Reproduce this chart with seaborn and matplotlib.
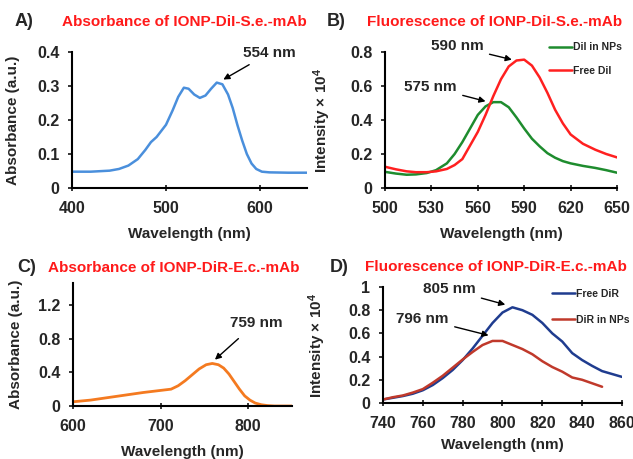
import numpy as np
import pandas as pd
import matplotlib
matplotlib.use('Agg')
import matplotlib.pyplot as plt
from matplotlib.ticker import FuncFormatter
import seaborn as sns

# Panel A: absorbance of IONP-DiI-S.e.-mAb
wl_a = [400, 420, 440, 450, 460, 470, 478, 484, 490, 500, 507, 513, 519, 524, 530,
        536, 542, 548, 554, 560, 566, 571, 576, 581, 586, 591, 596, 602, 610, 630, 650]
abs_a = [0.048, 0.048, 0.051, 0.056, 0.066, 0.085, 0.112, 0.135, 0.150, 0.186, 0.228,
         0.268, 0.295, 0.292, 0.275, 0.265, 0.272, 0.292, 0.310, 0.305, 0.275, 0.235,
         0.185, 0.140, 0.100, 0.072, 0.056, 0.048, 0.046, 0.045, 0.045]

# Panel B: fluorescence of IONP-DiI-S.e.-mAb
wl_b = [500, 507, 514, 520, 527, 533, 540, 545, 550, 555, 560, 565, 570, 575, 580,
        585, 590, 595, 600, 605, 610, 615, 620, 628, 636, 643, 650]
dii_nps = [0.095, 0.085, 0.078, 0.080, 0.088, 0.105, 0.145, 0.20, 0.27, 0.35, 0.43,
           0.48, 0.505, 0.505, 0.475, 0.415, 0.35, 0.29, 0.245, 0.205, 0.178, 0.158,
           0.145, 0.13, 0.118, 0.105, 0.09]
dii_free = [0.125, 0.11, 0.098, 0.093, 0.093, 0.098, 0.112, 0.135, 0.17, 0.25, 0.33,
            0.43, 0.54, 0.64, 0.715, 0.75, 0.755, 0.72, 0.65, 0.56, 0.46, 0.38,
            0.315, 0.26, 0.225, 0.2, 0.18]

# Panel C: absorbance of IONP-DiR-E.c.-mAb
wl_c = [600, 620, 640, 660, 680, 700, 712, 720, 728, 736, 744, 752, 759, 766, 772,
        778, 784, 790, 796, 802, 808, 815, 822, 830, 850]
abs_c = [0.05, 0.07, 0.10, 0.13, 0.16, 0.185, 0.2, 0.24, 0.30, 0.37, 0.44, 0.49,
         0.505, 0.49, 0.45, 0.38, 0.29, 0.2, 0.12, 0.07, 0.035, 0.015, 0.005, 0.0, 0.0]

# Panel D: fluorescence of IONP-DiR-E.c.-mAb
wl_d_free = [740, 745, 750, 755, 760, 765, 770, 775, 780, 785, 790, 795, 800, 805,
             810, 815, 820, 825, 830, 835, 840, 845, 850, 855, 860]
dir_free = [0.03, 0.045, 0.06, 0.08, 0.11, 0.155, 0.215, 0.285, 0.37, 0.47, 0.58,
            0.69, 0.78, 0.825, 0.8, 0.76, 0.69, 0.6, 0.53, 0.43, 0.37, 0.32, 0.275,
            0.25, 0.225]
wl_d_nps = [740, 745, 750, 755, 760, 765, 770, 775, 780, 785, 790, 795, 800, 805,
            810, 815, 820, 825, 830, 835, 840, 845, 850]
dir_nps = [0.03, 0.05, 0.065, 0.09, 0.12, 0.175, 0.235, 0.305, 0.375, 0.44, 0.5,
           0.535, 0.535, 0.50, 0.465, 0.42, 0.36, 0.31, 0.27, 0.22, 0.2, 0.17, 0.14]

sns.set_style('ticks')
plt.rcParams['font.family'] = ['Liberation Sans', 'DejaVu Sans']
plt.rcParams['font.weight'] = 'bold'
plt.rcParams['mathtext.default'] = 'regular'

fig = plt.figure(figsize=(6.33, 4.59), dpi=100)
W, H = 633, 459


def add_axes(x0, x1, ytop, ybot):
    return fig.add_axes([x0 / W, 1 - ybot / H, (x1 - x0) / W, (ybot - ytop) / H])


ax_a = add_axes(72, 307, 52, 188)
ax_b = add_axes(385, 617, 52, 188)
ax_c = add_axes(73, 292, 283, 406)
ax_d = add_axes(383, 622, 287, 403)

fmt = FuncFormatter(lambda v, p: '%g' % round(v, 3))
arrow = dict(arrowstyle='-|>', color='black', lw=1, shrinkA=2, shrinkB=0,
             mutation_scale=9)

# A
sns.lineplot(x=wl_a, y=abs_a, ax=ax_a, color='#4a8fdc', lw=1.8)
ax_a.set_xlim(400, 650)
ax_a.set_ylim(0, 0.4)
ax_a.set_xticks([400, 500, 600])
ax_a.set_yticks([0, 0.1, 0.2, 0.3, 0.4])
ax_a.set_ylabel('Absorbance (a.u.)')
ax_a.annotate('554 nm', xy=(561, 0.319), xytext=(582, 0.397), fontsize=11,
              fontweight='bold', va='center', ha='left', arrowprops=arrow)

# B
dfb = pd.DataFrame({'Wavelength': wl_b * 2,
                    'Intensity': dii_nps + dii_free,
                    'Sample': ['DiI in NPs'] * len(wl_b) + ['Free DiI'] * len(wl_b)})
sns.lineplot(data=dfb, x='Wavelength', y='Intensity', hue='Sample', ax=ax_b,
             palette=['#1e8c2e', '#ff2020'], lw=1.8)
ax_b.set_xlim(500, 650)
ax_b.set_ylim(0, 0.8)
ax_b.set_xticks([500, 530, 560, 590, 620, 650])
ax_b.set_yticks([0, 0.2, 0.4, 0.6, 0.8])
ax_b.set_ylabel('Intensity × 10$^{4}$')
for txt, head, tail in [('590 nm', (582, 0.755), (563.7, 0.833)),
                        ('575 nm', (565, 0.51), (546.4, 0.594))]:
    ax_b.annotate(txt, xy=head, xytext=tail, fontsize=11, fontweight='bold',
                  va='center', ha='right', arrowprops=arrow)
ax_b.legend(loc='upper left', bbox_to_anchor=(0.707, 1.07), frameon=False,
            fontsize=7.5, handlelength=2.2, handletextpad=0.1, labelspacing=1.25,
            borderpad=0, borderaxespad=0)

# C
sns.lineplot(x=wl_c, y=abs_c, ax=ax_c, color='#f47a20', lw=2)
ax_c.set_xlim(600, 850)
ax_c.set_ylim(0, 1.46)
ax_c.set_xticks([600, 700, 800])
ax_c.set_yticks([0, 0.4, 0.8, 1.2])
ax_c.set_ylabel('Absorbance (a.u.)')
ax_c.annotate('759 nm', xy=(762, 0.55), xytext=(779, 0.988), fontsize=11,
              fontweight='bold', va='center', ha='left',
              arrowprops=dict(arrow, shrinkA=6))

# D
dfd = pd.DataFrame({'Wavelength': wl_d_free + wl_d_nps,
                    'Intensity': dir_free + dir_nps,
                    'Sample': ['Free DiR'] * len(wl_d_free) + ['DiR in NPs'] * len(wl_d_nps)})
sns.lineplot(data=dfd, x='Wavelength', y='Intensity', hue='Sample', ax=ax_d,
             palette=['#1f3c8f', '#c0392b'], lw=1.8)
ax_d.set_xlim(740, 860)
ax_d.set_ylim(0, 1)
ax_d.set_xticks([740, 760, 780, 800, 820, 840, 860])
ax_d.set_yticks([0, 0.2, 0.4, 0.6, 0.8, 1])
ax_d.set_ylabel('Intensity × 10$^{4}$')
for txt, head, tail in [('805 nm', (801.4, 0.848), (786.4, 0.98)),
                        ('796 nm', (793, 0.583), (773, 0.727))]:
    ax_d.annotate(txt, xy=head, xytext=tail, fontsize=11, fontweight='bold',
                  va='center', ha='right', arrowprops=arrow)
ax_d.legend(loc='upper left', bbox_to_anchor=(0.707, 0.985), frameon=False,
            fontsize=7.5, handlelength=2.2, handletextpad=0.1, labelspacing=1.55,
            borderpad=0, borderaxespad=0)

ylab_x = {ax_a: -0.222, ax_b: -0.224, ax_c: -0.228, ax_d: -0.23}
xlab_y = {ax_a: -0.287, ax_b: -0.287, ax_c: -0.317, ax_d: -0.30}
for ax in [ax_a, ax_b, ax_c, ax_d]:
    sns.despine(ax=ax)
    ax.set_xlabel('Wavelength (nm)', fontsize=11, fontweight='bold')
    ax.yaxis.label.set_fontsize(11)
    ax.yaxis.label.set_fontweight('bold')
    ax.xaxis.set_label_coords(0.5, xlab_y[ax])
    ax.yaxis.set_label_coords(ylab_x[ax], 0.5)
    ax.xaxis.set_major_formatter(fmt)
    ax.yaxis.set_major_formatter(fmt)
    ax.tick_params(axis='both', labelsize=11.5, width=1.3)
    ax.tick_params(axis='x', direction='inout', length=5, pad=7)
    ax.tick_params(axis='y', direction='out', length=3, pad=6)
    for lab in ax.get_xticklabels() + ax.get_yticklabels():
        lab.set_fontweight('bold')
    for s in ['left', 'bottom']:
        ax.spines[s].set_linewidth(1.5)
        ax.spines[s].set_color('black')

# panel letters and titles
for letter, lx, title, tx, ty in [('A)', 15, 'Absorbance of IONP-DiI-S.e.-mAb', 62, 22),
                                  ('B)', 327, 'Fluorescence of IONP-DiI-S.e.-mAb', 367, 22),
                                  ('C)', 17, 'Absorbance of IONP-DiR-E.c.-mAb', 48, 268),
                                  ('D)', 330, 'Fluorescence of IONP-DiR-E.c.-mAb', 365, 267)]:
    fig.text(lx / W, 1 - ty / H, letter, fontsize=13, fontweight='bold',
             va='center', ha='left')
    fig.text(tx / W, 1 - ty / H, title, fontsize=11, fontweight='bold',
             color='#ff1a1a', va='center', ha='left')

fig.savefig('out.png', dpi=100)
